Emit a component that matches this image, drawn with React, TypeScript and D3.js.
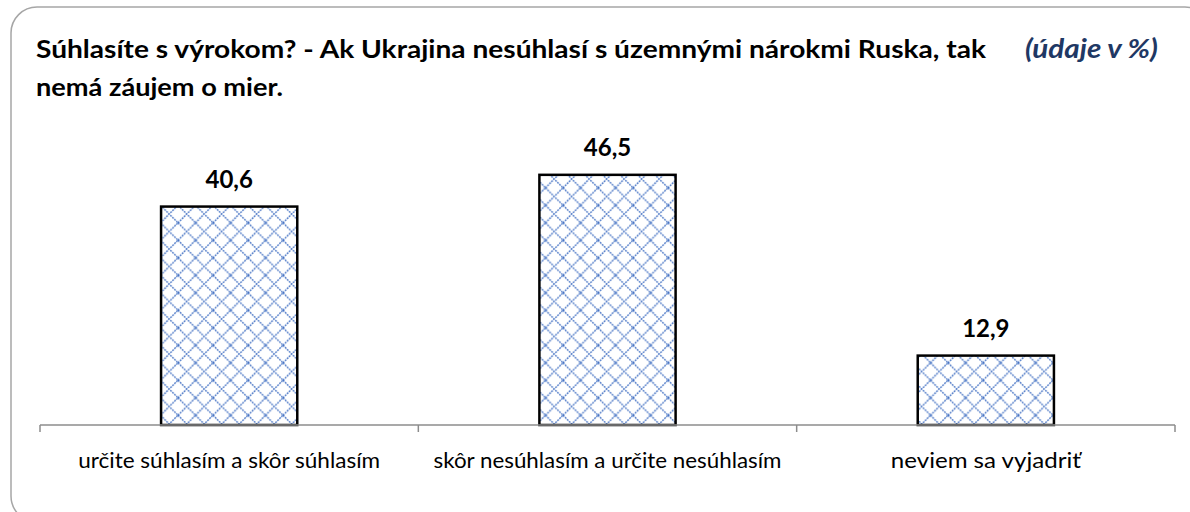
import * as d3 from "d3";

const categories: string[] = [
  "určite súhlasím a skôr súhlasím",
  "skôr nesúhlasím a určite nesúhlasím",
  "neviem sa vyjadriť",
];
const values: number[] = [40.6, 46.5, 12.9];
const titleLines: string[] = [
  "Súhlasíte s výrokom? - Ak Ukrajina nesúhlasí s územnými nárokmi Ruska, tak",
  "nemá záujem o mier.",
];
const unitNote = "(údaje v %)";

const W = 1190;
const H = 512;
const FONT = "Lato, 'Open Sans', sans-serif";

export default function App() {
  const left = 40;
  const right = 1175;
  const baseY = 425;

  // one slot per category (for ticks), bars sit in the middle of each slot
  const slot = d3.scaleBand<string>().domain(categories).range([left, right]).padding(0);
  const x = d3
    .scaleBand<string>()
    .domain(categories)
    .range([left, right])
    .paddingInner(0.64)
    .paddingOuter(0.32);
  const y = d3.scaleLinear().domain([0, 50]).range([baseY, 156]);

  const tickXs = [...categories.map((c) => slot(c) as number), right];
  const fmt = (v: number) => d3.format(".1f")(v).replace(".", ",");
  const labelWidths = [302, 348, 190];

  return (
    <svg
      width={W}
      height={H}
      style={{ position: "absolute", left: 0, top: 0, background: "#fff" }}
      fontFamily={FONT}
    >
      <defs>
        <pattern id="diamonds" width={17.5} height={17.5} patternUnits="userSpaceOnUse" x={3} y={4}>
          <rect width={17.5} height={17.5} fill="#fff" />
          <path
            d="M0,8.75 L8.75,0 L17.5,8.75 L8.75,17.5 Z"
            fill="none"
            stroke="#4472C4"
            strokeWidth={1.4}
            strokeDasharray="1.8 1"
          />
        </pattern>
      </defs>

      {/* outer frame */}
      <rect x={11} y={7} width={1200} height={515} rx={26} ry={26} fill="#fff" stroke="#a6a6a6" strokeWidth={1.5} />

      {/* title */}
      <text fontWeight="bold" fontSize={25} fill="#000">
        <tspan x={36} y={58} textLength={950} lengthAdjust="spacingAndGlyphs">
          {titleLines[0]}
        </tspan>
        <tspan x={36} y={96} textLength={247} lengthAdjust="spacingAndGlyphs">
          {titleLines[1]}
        </tspan>
      </text>
      <text
        x={1025}
        y={58}
        fontWeight="bold"
        fontStyle="italic"
        fontSize={26}
        fill="#1F3864"
        textLength={133}
        lengthAdjust="spacingAndGlyphs"
      >
        {unitNote}
      </text>

      {/* bars */}
      {categories.map((c, i) => (
        <g key={c}>
          <rect
            x={x(c)}
            y={y(values[i])}
            width={x.bandwidth()}
            height={baseY - y(values[i])}
            fill="url(#diamonds)"
            stroke="#000"
            strokeWidth={2.5}
          />
          <text
            x={(x(c) as number) + x.bandwidth() / 2}
            y={y(values[i]) - 19}
            textAnchor="middle"
            fontWeight="bold"
            fontSize={24}
            fill="#000"
          >
            {fmt(values[i])}
          </text>
        </g>
      ))}

      {/* category axis */}
      <line x1={left} x2={right} y1={baseY} y2={baseY} stroke="#8c8c8c" strokeWidth={1.5} />
      {tickXs.map((t, i) => (
        <line key={i} x1={t} x2={t} y1={baseY} y2={baseY + 7} stroke="#8c8c8c" strokeWidth={1.5} />
      ))}
      {categories.map((c, i) => (
        <text
          key={c}
          x={(slot(c) as number) + slot.bandwidth() / 2 - labelWidths[i] / 2}
          y={468}
          fontSize={22}
          fill="#000"
          textLength={labelWidths[i]}
          lengthAdjust="spacingAndGlyphs"
        >
          {c}
        </text>
      ))}
    </svg>
  );
}
